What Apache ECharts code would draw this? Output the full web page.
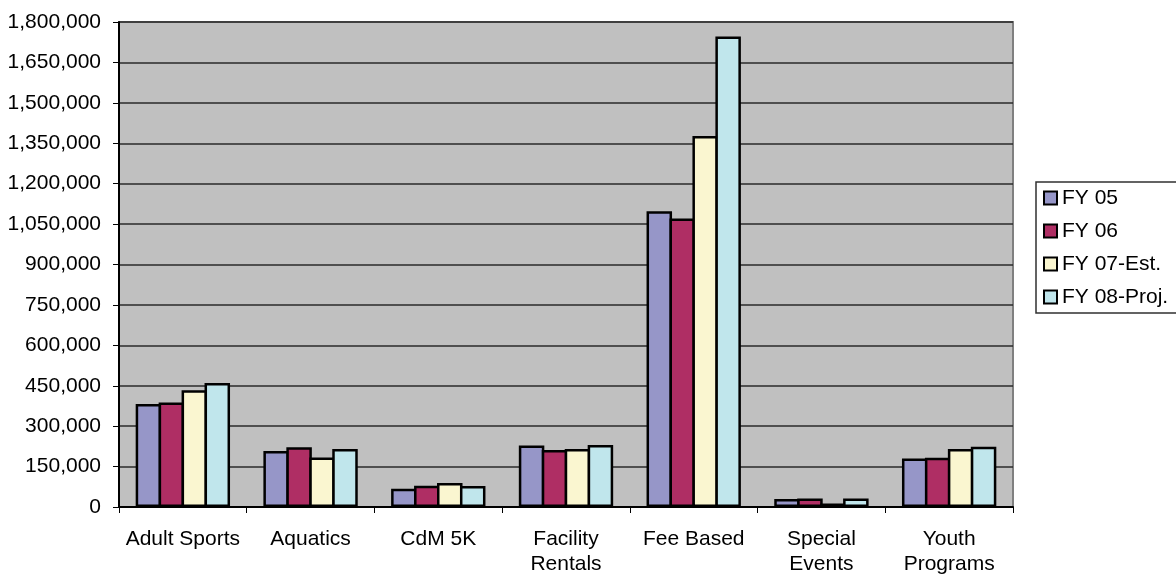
<!DOCTYPE html>
<html>
<head>
<meta charset="utf-8">
<script src="https://cdn.jsdelivr.net/npm/echarts@6/dist/echarts.min.js"></script>
<style>
  html, body { margin: 0; padding: 0; background: #ffffff; }
  #chart { width: 1176px; height: 577px; }
</style>
</head>
<body>
<div id="chart"></div>
<script>
// Program categories (two-line labels where the name wraps)
const categories = ['Adult Sports', 'Aquatics', 'CdM 5K', 'Facility\nRentals', 'Fee Based', 'Special\nEvents', 'Youth\nPrograms'];

// Revenue by fiscal year
const fy05 = [382000, 208000, 68000, 228000, 1098000, 30000, 180000];
const fy06 = [388000, 222000, 79000, 212000, 1071000, 32000, 183000];
const fy07Est = [433000, 184000, 89000, 215000, 1377000, 13000, 215000];
const fy08Proj = [460000, 215000, 78000, 230000, 1746000, 32000, 224000];

const seriesNames = ['FY 05', 'FY 06', 'FY 07-Est.', 'FY 08-Proj.'];
const seriesData = [fy05, fy06, fy07Est, fy08Proj];
const seriesColors = ['#9696C8', '#AF2E64', '#FAF6D0', '#C0E6EC'];

const FONT = "'Liberation Sans', Arial, sans-serif";

const chart = echarts.init(document.getElementById('chart'), null, { renderer: 'canvas' });

chart.setOption({
  animation: false,
  backgroundColor: '#ffffff',
  textStyle: { fontFamily: FONT, color: '#000' },
  grid: {
    left: 119, top: 22, right: 163, bottom: 68,
    show: true,
    backgroundColor: '#C0C0C0',
    borderColor: '#808080',
    borderWidth: 2
  },
  graphic: [{
    type: 'rect',
    shape: { x: 1036, y: 182, width: 160, height: 131 },
    style: { fill: '#ffffff', stroke: '#303030', lineWidth: 1.5 },
    z: 0
  }],
  legend: {
    orient: 'vertical',
    left: 1043,
    top: 187,
    padding: 0,
    itemWidth: 13,
    itemHeight: 13,
    itemGap: 11,
    icon: 'rect',
    itemStyle: { borderColor: '#000', borderWidth: 2 },
    textStyle: { fontFamily: FONT, fontSize: 21, color: '#000', lineHeight: 22 },
    data: seriesNames,
    z: 5
  },
  xAxis: {
    type: 'category',
    data: categories,
    axisLine: { lineStyle: { color: '#000', width: 2 } },
    axisTick: { show: true, length: 6, lineStyle: { color: '#000', width: 1 } },
    axisLabel: { fontFamily: FONT, fontSize: 21, color: '#000', margin: 20, lineHeight: 25, interval: 0 },
    splitLine: { show: false }
  },
  yAxis: {
    type: 'value',
    min: 0,
    max: 1800000,
    interval: 150000,
    axisLine: { show: true, lineStyle: { color: '#000', width: 2 } },
    axisTick: { show: true, length: 6, lineStyle: { color: '#000', width: 1 } },
    axisLabel: {
      fontFamily: FONT, fontSize: 21, color: '#000', margin: 18,
      formatter: v => v.toLocaleString('en-US')
    },
    splitLine: { show: true, lineStyle: { color: '#2a2a2a', width: 1.5 } }
  },
  // Adjacent bars overlap by one border width so neighbours share a single outline
  series: seriesNames.map((name, i) => ({
    name,
    type: 'bar',
    data: seriesData[i],
    barWidth: 25.5,
    barGap: '-10%',
    itemStyle: { color: seriesColors[i], borderColor: '#000', borderWidth: 2.5 }
  }))
});
</script>
</body>
</html>
